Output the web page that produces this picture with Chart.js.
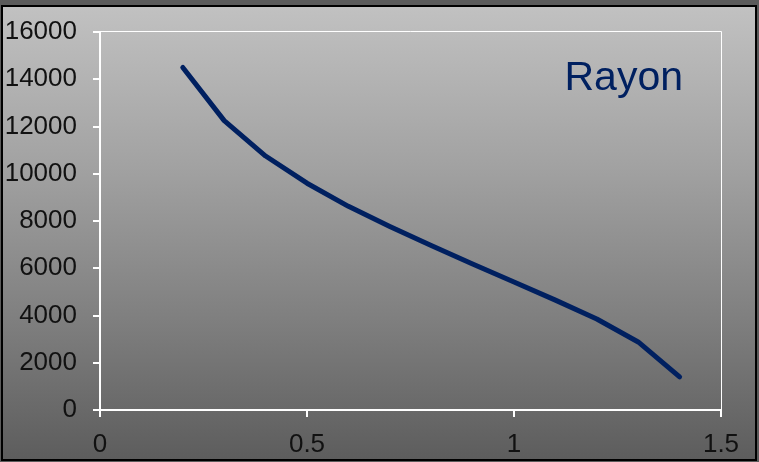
<!DOCTYPE html>
<html>
<head>
<meta charset="utf-8">
<script src="https://cdn.jsdelivr.net/npm/chart.js@4/dist/chart.umd.min.js"></script>
<style>
  html, body { margin: 0; padding: 0; }
  body { width: 759px; height: 462px; background: #5b5b5b; position: relative; overflow: hidden; }
  #frame {
    position: absolute; left: 1px; top: 5px;
    width: 752px; height: 452px;
    border: 2px solid #000;
    background: linear-gradient(to bottom, #c1c1c1 0%, #a2a2a2 35%, #7e7e7e 70%, #5d5d5d 100%);
  }
  #frame canvas { position: absolute; left: 0; top: 0; }
</style>
</head>
<body>
<div id="frame"><canvas id="c" width="752" height="452"></canvas></div>
<script>
// Series: thickness x versus value
const seriesName = 'Rayon';
const rayonX = [0.2, 0.3, 0.4, 0.5, 0.6, 0.7, 0.8, 0.9, 1.0, 1.1, 1.2, 1.3, 1.4];
const rayonY = [14500, 12250, 10750, 9600, 8620, 7770, 6960, 6180, 5420, 4650, 3850, 2880, 1400];

// Axis ranges and tick steps
const xRange = [0, 1.5];
const xStep = 0.5;
const yRange = [0, 16000];
const yStep = 2000;

const navy = '#002060';
const fontFamily = "'Liberation Sans', Arial, sans-serif";

// Outline the top and right of the plot area, and write the series name inside it
const framePlugin = {
  id: 'plotFrame',
  afterDraw(chart) {
    const { ctx, chartArea: a } = chart;
    ctx.save();
    ctx.strokeStyle = '#ffffff';
    ctx.lineWidth = 1;
    ctx.beginPath();
    ctx.moveTo(a.left, a.top - 0.5);
    ctx.lineTo(a.right + 0.5, a.top - 0.5);
    ctx.lineTo(a.right + 0.5, a.bottom);
    ctx.stroke();

    ctx.fillStyle = navy;
    ctx.font = '41px ' + fontFamily;
    ctx.textAlign = 'right';
    ctx.textBaseline = 'alphabetic';
    ctx.fillText(chart.data.datasets[0].label, a.right - 38, a.top + 58);
    ctx.restore();
  }
};

const points = rayonX.map((x, i) => ({ x: x, y: rayonY[i] }));

new Chart(document.getElementById('c'), {
  type: 'line',
  data: {
    datasets: [{
      label: seriesName,
      data: points,
      borderColor: navy,
      borderWidth: 5,
      borderCapStyle: 'round',
      borderJoinStyle: 'round',
      pointRadius: 0,
      tension: 0,
      fill: false
    }]
  },
  options: {
    responsive: false,
    animation: false,
    layout: { padding: { left: 0, top: 25, right: 34, bottom: 0 } },
    plugins: { legend: { display: false }, tooltip: { enabled: false } },
    scales: {
      x: {
        type: 'linear',
        min: xRange[0], max: xRange[1],
        afterFit(scale) { scale.height = 49; scale.paddingLeft = 0; scale.paddingRight = 0; },
        ticks: {
          stepSize: xStep,
          color: '#111',
          padding: 12,
          maxRotation: 0,
          font: { family: fontFamily, size: 26 },
          callback: v => String(v)
        },
        grid: { drawOnChartArea: false, color: '#ffffff', lineWidth: 2, tickLength: 7 },
        border: { color: '#ffffff', width: 2 }
      },
      y: {
        type: 'linear',
        min: yRange[0], max: yRange[1],
        afterFit(scale) { scale.width = 97; scale.paddingTop = 0; scale.paddingBottom = 0; },
        ticks: {
          stepSize: yStep,
          color: '#111',
          padding: 16,
          font: { family: fontFamily, size: 26 },
          callback: v => String(v)
        },
        grid: { drawOnChartArea: false, color: '#ffffff', lineWidth: 2, tickLength: 7 },
        border: { color: '#ffffff', width: 2 }
      }
    }
  },
  plugins: [framePlugin]
});
</script>
</body>
</html>
